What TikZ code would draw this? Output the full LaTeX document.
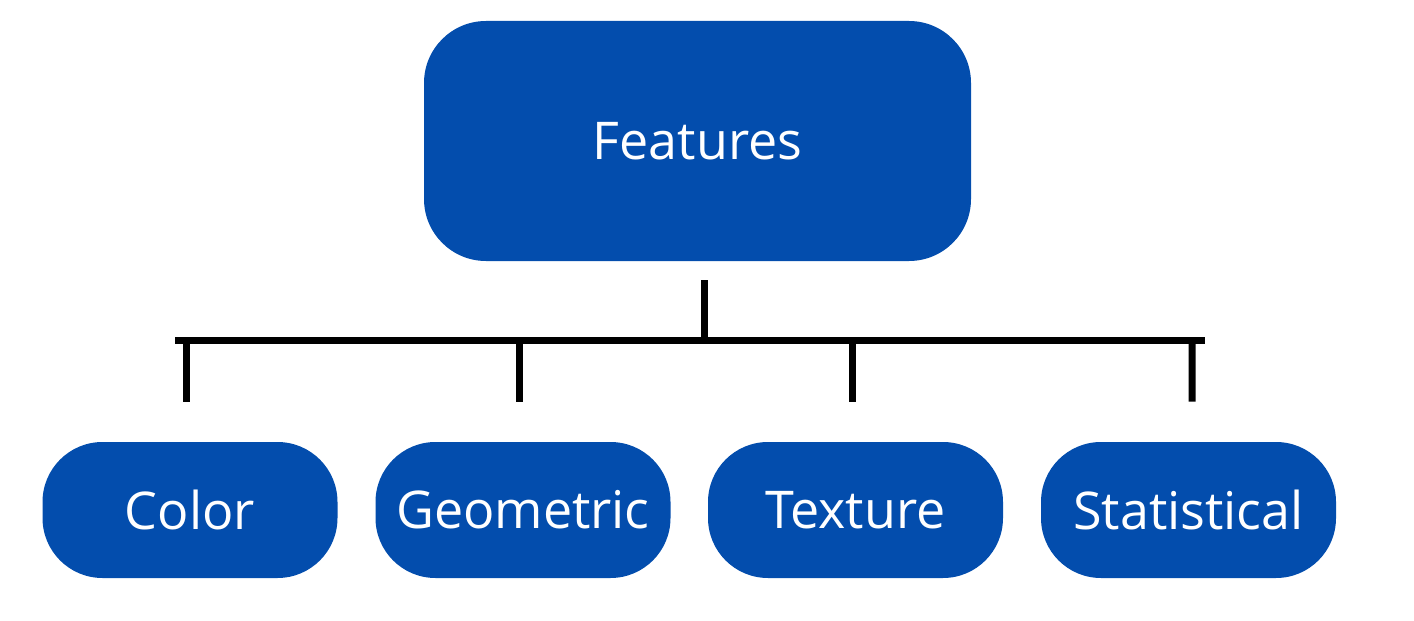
\documentclass[tikz,border=0pt]{standalone}
\usepackage{fontspec}
\setmainfont{Open Sans}
\usepackage{tikz}
\usetikzlibrary{calc,positioning}
\definecolor{featblue}{HTML}{034DAD}

\begin{document}
\begin{tikzpicture}[>=latex]
			\tikzstyle{topbox}=[fill=featblue, text=white, rounded corners=1.24cm, minimum width=10.94cm, minimum height=4.8cm, inner sep=0pt, font=\fontsize{29.6}{36}\selectfont]
			\tikzstyle{leafbox}=[fill=featblue, text=white, rounded corners=1.2cm, minimum width=5.9cm, minimum height=2.72cm, inner sep=0pt, font=\fontsize{29.6}{36}\selectfont]
			\tikzstyle{bar}=[line width=0.14cm, black]

			\useasboundingbox (0,0) rectangle (28.28,12.4);

			\node (Feat) [topbox] at (13.95,9.58) {Features};

			\node (Col) [leafbox] at (3.8,2.2) {Color};
			\node (Geo) [leafbox] at (10.46,2.2) {Geometric};
			\node (Tex) [leafbox] at (17.11,2.2) {Texture};
			\node (Stat) [leafbox] at (23.77,2.2) {Statistical};

			\coordinate (stem) at ($(Feat.south) + (0.13, -0.38)$);
			\coordinate (hub) at ($(Feat.south) + (0.13, -1.58)$);
			\coordinate (busL) at (3.5,5.6);
			\coordinate (busR) at (24.1,5.6);

			\draw [bar] (stem) -- (hub);
			\draw [bar] (busL) -- (busR);

			\draw [bar] (3.73,5.6) -- ($(Col.north) + (-0.07, 0.8)$);
			\draw [bar] (10.38,5.6) -- ($(Geo.north) + (-0.08, 0.8)$);
			\draw [bar] (17.04,5.6) -- ($(Tex.north) + (-0.07, 0.8)$);
			\draw [bar] (23.84,5.6) -- ($(Stat.north) + (0.07, 0.8)$);
		\end{tikzpicture}
\end{document}
